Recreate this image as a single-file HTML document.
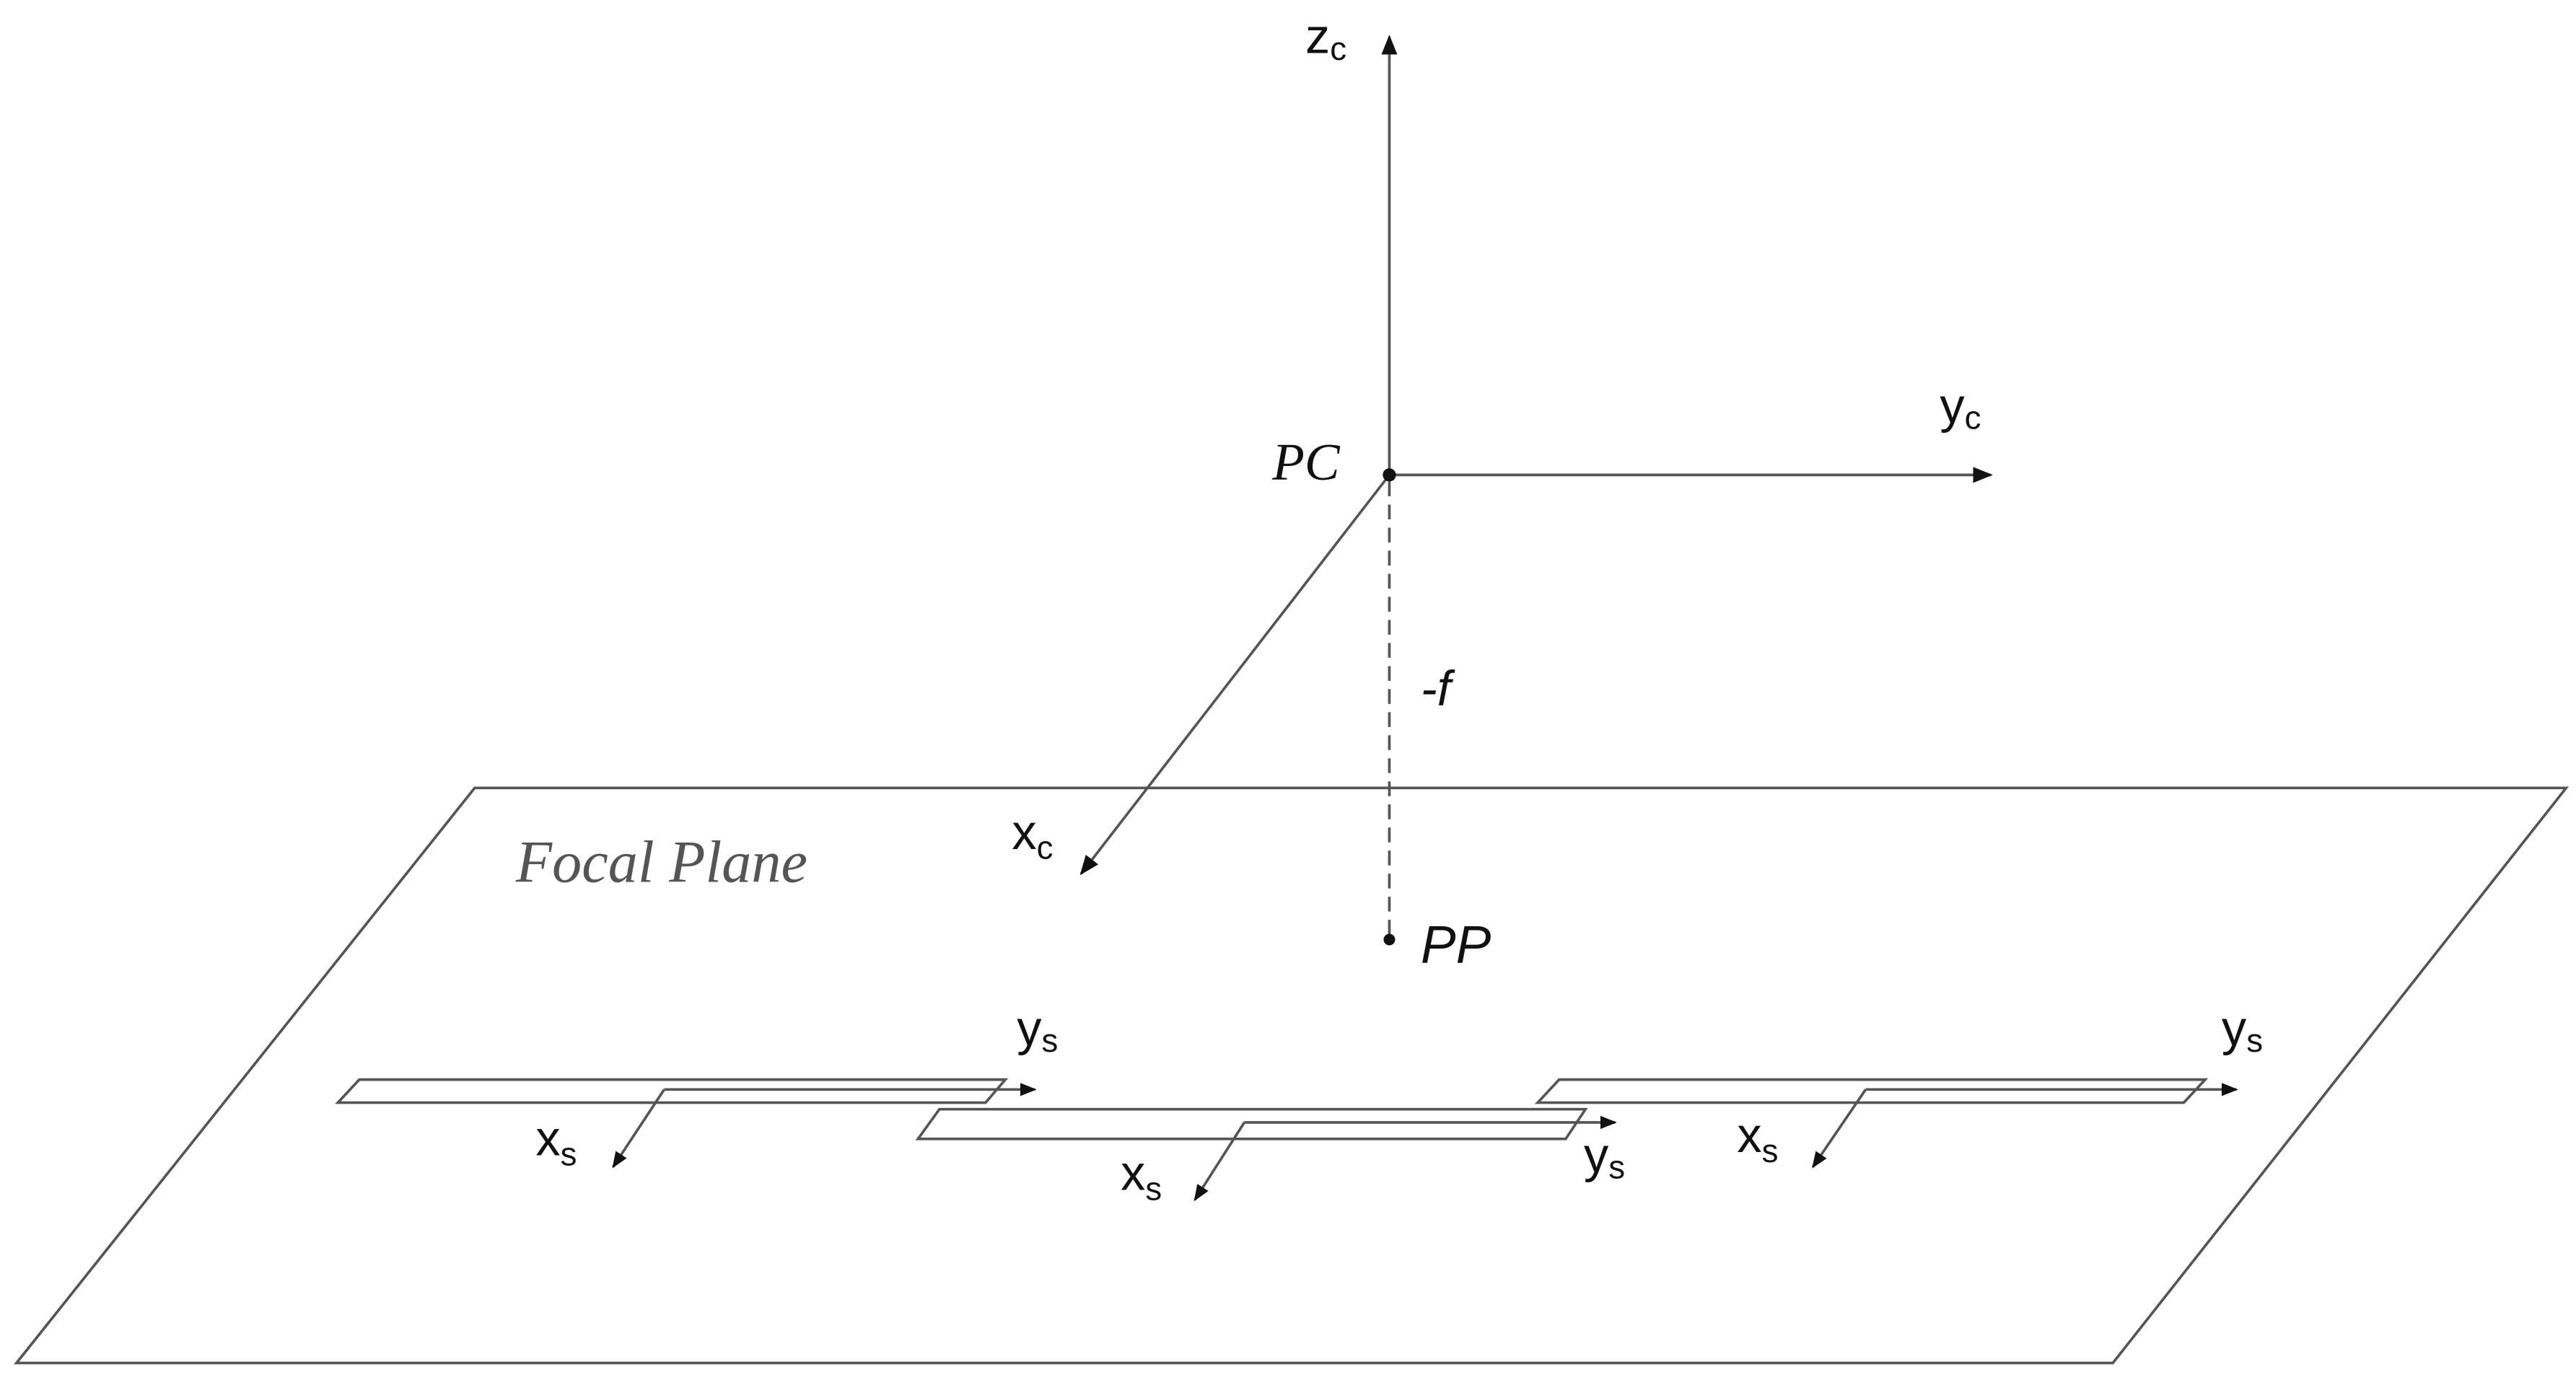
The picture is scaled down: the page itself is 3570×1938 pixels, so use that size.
<!DOCTYPE html>
<html><head><meta charset="utf-8"><style>
html,body{margin:0;padding:0;background:#fff;}
svg{display:block;}
text{font-family:"Liberation Sans",sans-serif;fill:#111;}
.s{font-family:"Liberation Serif",serif;font-style:italic;}
</style></head><body>
<svg width="3570" height="1938" viewBox="0 0 1563 848" xmlns="http://www.w3.org/2000/svg">
<defs>
<marker id="a" viewBox="0 0 10 10" refX="9" refY="5" markerWidth="10" markerHeight="10" orient="auto" markerUnits="userSpaceOnUse"><path d="M0,1 L10,5 L0,9 z" fill="#111"/></marker>
<marker id="b" viewBox="0 0 10 10" refX="9" refY="5" markerWidth="12" markerHeight="12" orient="auto" markerUnits="userSpaceOnUse"><path d="M0,1 L10,5 L0,9 z" fill="#111"/></marker>
</defs>
<g stroke="#555" stroke-width="1.6" fill="none">
<polygon points="288,478 1557,478 1282,827 10,827"/>
<line x1="843" y1="288" x2="843" y2="22" marker-end="url(#b)"/>
<line x1="843" y1="288" x2="1208" y2="288" marker-end="url(#b)"/>
<line x1="843" y1="288" x2="656" y2="530" marker-end="url(#b)"/>
<line x1="843" y1="292" x2="843" y2="568" stroke-dasharray="9,5"/>
<polygon points="218,655 610,655 598,669 205,669"/>
<line x1="403" y1="661" x2="628" y2="661" marker-end="url(#a)"/>
<line x1="403" y1="661" x2="372" y2="708" marker-end="url(#a)"/>
<polygon points="570,673 962,673 950,691 557,691"/>
<line x1="755" y1="681" x2="980" y2="681" marker-end="url(#a)"/>
<line x1="755" y1="681" x2="725" y2="728" marker-end="url(#a)"/>
<polygon points="946,655 1338,655 1325,669 933,669"/>
<line x1="1132" y1="661" x2="1357" y2="661" marker-end="url(#a)"/>
<line x1="1132" y1="661" x2="1100" y2="708" marker-end="url(#a)"/>
</g>
<circle cx="843" cy="288" r="4" fill="#111"/>
<circle cx="843" cy="570" r="3.5" fill="#111"/>
<text x="792" y="32" font-size="30">z<tspan font-size="20" dy="4">c</tspan></text>
<text x="1177" y="256" font-size="30">y<tspan font-size="20" dy="4">c</tspan></text>
<text x="772" y="291" font-size="32" class="s">PC</text>
<text x="862" y="428" font-size="30" font-style="italic">-f</text>
<text x="614" y="515" font-size="30">x<tspan font-size="20" dy="6">c</tspan></text>
<text x="313" y="535" font-size="36" class="s" style="fill:#555">Focal Plane</text>
<text x="862" y="584" font-size="32" font-style="italic">PP</text>
<text x="617" y="634" font-size="30">y<tspan font-size="20" dy="4">s</tspan></text>
<text x="325" y="701" font-size="30">x<tspan font-size="20" dy="6">s</tspan></text>
<text x="680" y="722" font-size="30">x<tspan font-size="20" dy="6">s</tspan></text>
<text x="961" y="711" font-size="30">y<tspan font-size="20" dy="4">s</tspan></text>
<text x="1054" y="699" font-size="30">x<tspan font-size="20" dy="6">s</tspan></text>
<text x="1348" y="634" font-size="30">y<tspan font-size="20" dy="4">s</tspan></text>
</svg>
</body></html>
